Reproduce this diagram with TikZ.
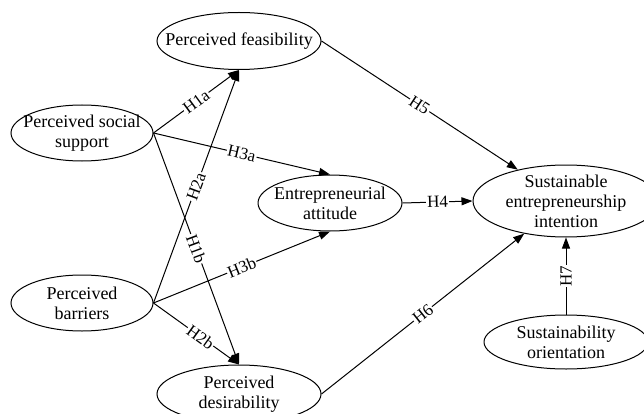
\documentclass[tikz,border=0pt]{standalone}
\usepackage{fontspec}
\setmainfont{Liberation Serif}
\usetikzlibrary{shapes.geometric,arrows.meta}
\begin{document}
\begin{tikzpicture}[x=1pt,y=-1pt,
  ell/.style 2 args={ellipse,draw,line width=1pt,minimum width=#1,minimum height=#2,inner sep=0pt},
  nt/.style={align=center,font=\fontsize{18}{20}\selectfont,inner sep=0pt},
  conn/.style={line width=1pt,-{Triangle[length=11pt,width=8pt]}},
  hyp/.style={midway,sloped,fill=white,inner sep=1pt,font=\fontsize{17}{17}\selectfont}]
\useasboundingbox (0,0) rectangle (644,414);
\clip (0,0) rectangle (644,414);
\node[ell={164}{57},label={[nt]center:{Perceived feasibility}}] (PF) at (239,41) {};
\node[ell={142}{56},label={[nt]center:{Perceived social\\support}}] (PSS) at (82,133) {};
\node[ell={144}{56},label={[nt]center:{Entrepreneurial\\attitude}}] (EA) at (330,203) {};
\node[ell={142}{56},label={[nt]center:{Perceived\\barriers}}] (PB) at (82,303) {};
\node[ell={164}{58},label={[nt]center:{Perceived\\desirability}}] (PD) at (239,394) {};
\node[ell={186}{72},label={[nt]center:{Sustainable\\entrepreneurship\\intention}}] (SEI) at (566,201) {};
\node[ell={164}{54},label={[nt]center:{Sustainability\\orientation}}] (SO) at (566,342) {};
\draw[conn] (PSS.east) -- node[hyp]{H1a} (PF.south);
\draw[conn] (PSS.east) -- node[hyp]{H3a} (EA.north);
\draw[conn] (PSS.east) -- node[hyp]{H1b} (PD.north);
\draw[conn] (PB.east) -- node[hyp]{H2a} (PF.south);
\draw[conn] (PB.east) -- node[hyp]{H3b} (EA.south);
\draw[conn] (PB.east) -- node[hyp,pos=0.55]{H2b} (PD.north);
\draw[conn] (PF.east) -- node[hyp]{H5} (SEI.147);
\draw[conn] (EA.east) -- node[hyp]{H4} (SEI.west);
\draw[conn] (PD.east) -- node[hyp]{H6} (SEI.218);
\draw[conn] (SO.north) -- node[hyp]{H7} (SEI.south);
\end{tikzpicture}
\end{document}
